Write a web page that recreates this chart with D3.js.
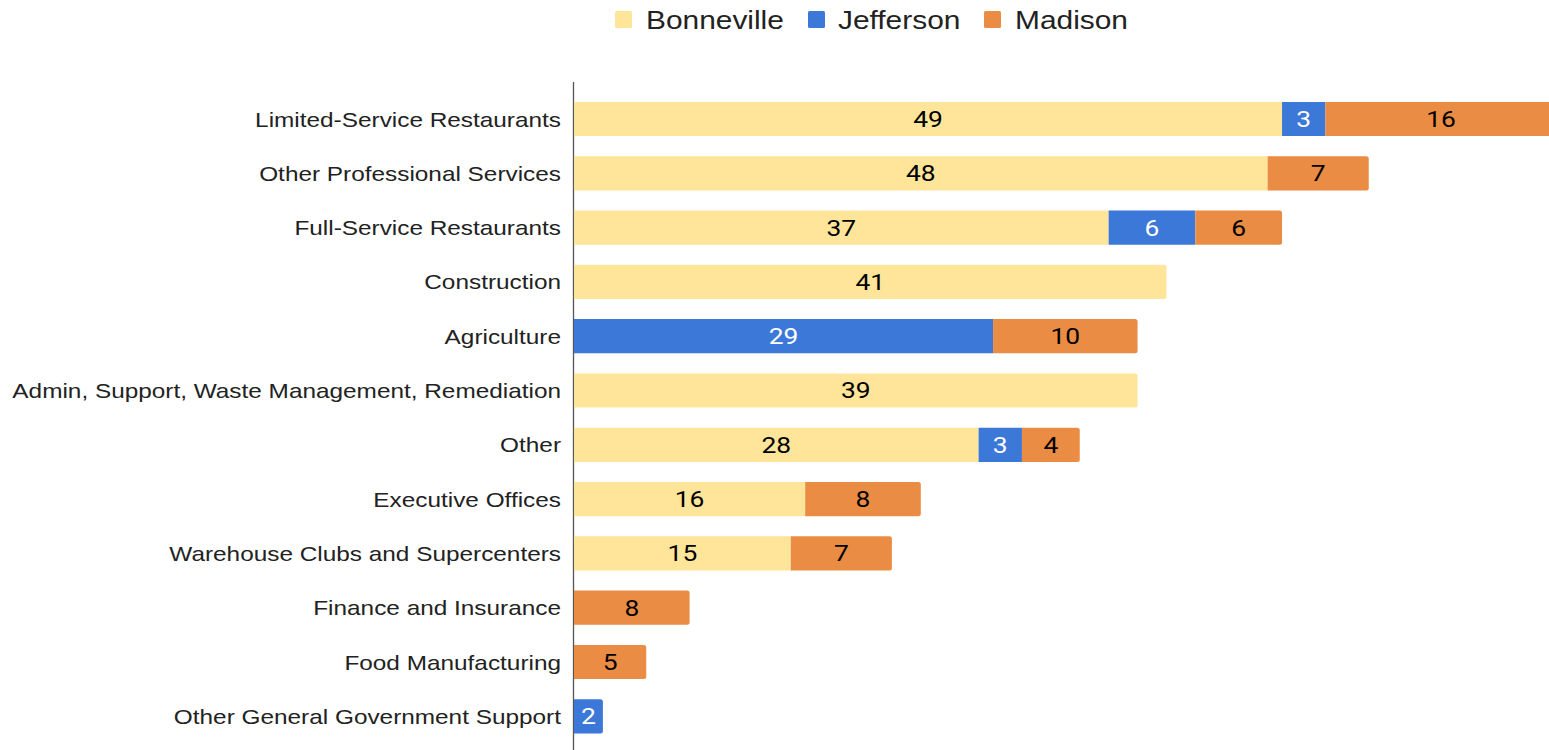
<!DOCTYPE html>
<html>
<head>
<meta charset="utf-8">
<script src="https://cdn.jsdelivr.net/npm/d3@7"></script>
<style>
  html, body { margin: 0; padding: 0; background: #fff; }
  svg { display: block; }
</style>
</head>
<body>
<svg id="chart" width="1549" height="750"></svg>
<script>
// Industry categories (top to bottom)
const categories = [
  "Limited-Service Restaurants",
  "Other Professional Services",
  "Full-Service Restaurants",
  "Construction",
  "Agriculture",
  "Admin, Support, Waste Management, Remediation",
  "Other",
  "Executive Offices",
  "Warehouse Clubs and Supercenters",
  "Finance and Insurance",
  "Food Manufacturing",
  "Other General Government Support"
];

// Counts per county
const seriesNames = ["Bonneville", "Jefferson", "Madison"];
const bonneville = [49, 48, 37, 41, 0, 39, 28, 16, 15, 0, 0, 0];
const jefferson  = [3, 0, 6, 0, 29, 0, 3, 0, 0, 0, 0, 2];
const madison    = [16, 7, 6, 0, 10, 0, 4, 8, 7, 8, 5, 0];

const colors = { Bonneville: "#ffe599", Jefferson: "#3c78d8", Madison: "#eb8c44" };
const labelColors = { Bonneville: "#000", Jefferson: "#fff", Madison: "#000" };

const W = 1549, H = 750;
const svg = d3.select("#chart");
svg.append("rect").attr("width", W).attr("height", H).attr("fill", "#fff");

const rows = categories.map((c, i) => ({
  category: c,
  Bonneville: bonneville[i],
  Jefferson: jefferson[i],
  Madison: madison[i]
}));

const stacked = d3.stack().keys(seriesNames)(rows);

const x = d3.scaleLinear().domain([0, 68]).range([574, 1556.6]);
const y = d3.scaleBand()
  .domain(categories)
  .range([91.85, 743.45])
  .paddingInner(0.37)
  .paddingOuter(0.185);

// Horizontal stretch applied to the text
const SX_LABEL = 1.16;
const SX_VALUE = 1.2;
const SX_LEGEND = 1.15;

// Vertical axis line
svg.append("line")
  .attr("x1", 573.5).attr("x2", 573.5)
  .attr("y1", 82).attr("y2", H)
  .attr("stroke", "#555").attr("stroke-width", 1.3);

// Last non-zero segment in each row gets a rounded right end
const lastKey = rows.map(r => {
  let k = null;
  seriesNames.forEach(s => { if (r[s] > 0) k = s; });
  return k;
});

function segPath(x0, x1, y0, h, round) {
  const r = round ? Math.min(2.5, (x1 - x0) / 2) : 0;
  return `M${x0},${y0}H${x1 - r}` +
    (r ? `Q${x1},${y0} ${x1},${y0 + r}` : "") +
    `V${y0 + h - r}` +
    (r ? `Q${x1},${y0 + h} ${x1 - r},${y0 + h}` : "") +
    `H${x0}Z`;
}

const layer = svg.append("g");
stacked.forEach(series => {
  const key = series.key;
  series.forEach((d, i) => {
    if (d[1] - d[0] <= 0) return;
    const cat = categories[i];
    const x0 = x(d[0]), x1 = x(d[1]);
    layer.append("path")
      .attr("d", segPath(x0, x1, y(cat), y.bandwidth(), lastKey[i] === key))
      .attr("fill", colors[key]);
    const cx = (x0 + x1) / 2, cy = y(cat) + y.bandwidth() / 2;
    layer.append("text")
      .attr("transform", `translate(${cx},${cy}) scale(${SX_VALUE},1)`)
      .attr("text-anchor", "middle")
      .attr("dy", "0.36em")
      .attr("font-family", "Roboto, sans-serif")
      .attr("font-size", 22)
      .attr("fill", labelColors[key])
      .text(d[1] - d[0]);
  });
});

// Category labels
svg.append("g").selectAll("text")
  .data(categories)
  .join("text")
  .attr("transform", d => `translate(561,${y(d) + y.bandwidth() / 2}) scale(${SX_LABEL},1)`)
  .attr("text-anchor", "end")
  .attr("dy", "0.36em")
  .attr("font-family", "'Liberation Sans', Arial, sans-serif")
  .attr("font-size", 21)
  .attr("fill", "#222")
  .text(d => d);

// Legend
const legendItems = [
  { name: "Bonneville", sx: 615, tx: 646 },
  { name: "Jefferson", sx: 808, tx: 838 },
  { name: "Madison", sx: 984, tx: 1015 }
];
const lg = svg.append("g");
legendItems.forEach(it => {
  lg.append("rect")
    .attr("x", it.sx).attr("y", 11).attr("width", 17).attr("height", 17)
    .attr("rx", 1.5)
    .attr("fill", colors[it.name]);
  lg.append("text")
    .attr("transform", `translate(${it.tx},19.5) scale(${SX_LEGEND},1)`)
    .attr("dy", "0.36em")
    .attr("font-family", "'Liberation Sans', Arial, sans-serif")
    .attr("font-size", 26)
    .attr("fill", "#222")
    .text(it.name);
});
</script>
</body>
</html>
